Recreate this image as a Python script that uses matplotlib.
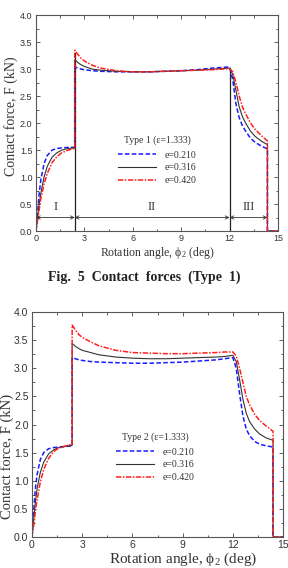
import matplotlib
matplotlib.use("Agg")
import matplotlib.pyplot as plt
from matplotlib.ticker import MultipleLocator

plt.rcParams["mathtext.fontset"] = "custom"
plt.rcParams["mathtext.rm"] = "Liberation Serif"
plt.rcParams["mathtext.it"] = "Liberation Serif:italic"

# ---------------- data ----------------
# Type 1
t1_x_I = [0, 0.1, 0.2, 0.3, 0.5, 0.7, 1.0, 1.3, 1.6, 2.0, 2.4]
t1_b_I = [0, 0.35, 0.7, 0.95, 1.25, 1.4, 1.5, 1.53, 1.54, 1.55, 1.55]
t1_k_I = [0, 0.25, 0.5, 0.7, 1.0, 1.2, 1.37, 1.45, 1.5, 1.53, 1.54]
t1_r_I = [0, 0.2, 0.4, 0.6, 0.87, 1.07, 1.27, 1.38, 1.45, 1.5, 1.53]

t1_x_II = [2.4, 2.6, 2.8, 3.0, 3.5, 4, 5, 6, 7, 8, 9, 10, 11, 11.5, 12]
t1_b_II = [3.04, 3.02, 3.0, 2.99, 2.97, 2.96, 2.95, 2.95, 2.95, 2.96, 2.97, 2.99, 3.02, 3.03, 3.04]
t1_k_II = [3.18, 3.12, 3.08, 3.05, 3.0, 2.98, 2.96, 2.95, 2.95, 2.96, 2.97, 2.98, 3.0, 3.01, 3.02]
t1_r_II = [3.35, 3.27, 3.2, 3.15, 3.07, 3.02, 2.97, 2.95, 2.95, 2.96, 2.97, 2.98, 2.99, 3.0, 3.01]

t1_x_III = [12, 12.2, 12.4, 12.6, 12.8, 13, 13.3, 13.6, 14.0, 14.35, 14.35, 15]
t1_b_III = [3.04, 2.8, 2.35, 2.1, 1.95, 1.85, 1.72, 1.64, 1.57, 1.52, 0, 0]
t1_k_III = [3.02, 2.9, 2.6, 2.3, 2.12, 2.0, 1.85, 1.75, 1.66, 1.6, 0, 0]
t1_r_III = [3.01, 2.95, 2.75, 2.5, 2.3, 2.17, 2.0, 1.88, 1.76, 1.67, 0, 0]

# Type 2
t2_x_I = [0, 0.1, 0.2, 0.3, 0.5, 0.7, 1.0, 1.3, 1.6, 2.0, 2.4]
t2_b_I = [0, 0.45, 0.85, 1.1, 1.38, 1.5, 1.57, 1.59, 1.6, 1.61, 1.62]
t2_k_I = [0, 0.3, 0.6, 0.85, 1.15, 1.33, 1.48, 1.55, 1.59, 1.61, 1.63]
t2_r_I = [0, 0.2, 0.45, 0.65, 0.98, 1.2, 1.4, 1.52, 1.58, 1.62, 1.65]

t2_x_II = [2.4, 2.6, 2.8, 3.0, 3.5, 4, 5, 6, 7, 8, 9, 10, 11, 11.5, 12]
t2_b_II = [3.19, 3.17, 3.15, 3.14, 3.12, 3.11, 3.1, 3.09, 3.09, 3.1, 3.11, 3.13, 3.15, 3.17, 3.19]
t2_k_II = [3.44, 3.39, 3.35, 3.32, 3.28, 3.24, 3.2, 3.18, 3.17, 3.17, 3.18, 3.19, 3.2, 3.21, 3.23]
t2_r_II = [3.77, 3.68, 3.6, 3.55, 3.47, 3.40, 3.32, 3.28, 3.27, 3.26, 3.26, 3.27, 3.28, 3.29, 3.29]

t2_x_III = [12, 12.2, 12.4, 12.6, 12.8, 13, 13.3, 13.6, 14.0, 14.4, 14.4, 15]
t2_b_III = [3.19, 3.0, 2.55, 2.15, 1.92, 1.8, 1.7, 1.65, 1.62, 1.6, 0, 0]
t2_k_III = [3.23, 3.12, 2.8, 2.45, 2.2, 2.05, 1.92, 1.83, 1.76, 1.72, 0, 0]
t2_r_III = [3.29, 3.22, 3.0, 2.75, 2.5, 2.35, 2.18, 2.07, 1.97, 1.88, 0, 0]

labels = ["e=0.210", "e=0.316", "e=0.420"]
region_labels = ["I", "II", "III"]
region_bounds = [0, 2.4, 12, 14.35]
xticks = [0, 3, 6, 9, 12, 15]
yticks = [0.0, 0.5, 1.0, 1.5, 2.0, 2.5, 3.0, 3.5, 4.0]

serif = ["Liberation Serif", "DejaVu Serif"]
sans = ["Liberation Sans", "DejaVu Sans"]
XLABEL = "Rotation angle, \u03d5$_2$ (deg)"
YLABEL = "Contact force, F (kN)"

styles = [
    dict(color="#1a1aff", ls=(0, (3, 1.5)), lw=1.1),
    dict(color="#333333", ls="-", lw=0.8),
    dict(color="#ff2020", ls=(0, (3.5, 1, 1, 1)), lw=1.1),
]

fig = plt.figure(figsize=(2.88, 5.68), dpi=100)


def style_axes(ax, tick_fs, xl_fs, yl_fs, ylpad):
    ax.set_xlim(0, 15)
    ax.set_ylim(0, 4)
    ax.set_xticks(xticks)
    ax.set_yticks(yticks)
    ax.set_yticklabels([f"{v:.1f}" for v in yticks])
    ax.xaxis.set_minor_locator(MultipleLocator(1.5))
    ax.yaxis.set_minor_locator(MultipleLocator(0.25))
    ax.tick_params(which="both", direction="in", top=True, right=True,
                   labelsize=tick_fs, color="#444444", labelcolor="#333333",
                   width=0.6, pad=2.5)
    ax.tick_params(which="major", length=3)
    ax.tick_params(which="minor", length=1.8)
    for lab in ax.get_xticklabels() + ax.get_yticklabels():
        lab.set_family(sans)
    for s in ax.spines.values():
        s.set_color("#555555")
        s.set_linewidth(0.8)
    ax.set_xlabel(XLABEL, family=serif, fontsize=xl_fs, color="#333333",
                  labelpad=1)
    ax.set_ylabel(YLABEL, family=serif, fontsize=yl_fs, color="#333333",
                  labelpad=ylpad)


def draw(ax, xs, series):
    handles = []
    for (yI, yII, yIII), st, lab in zip(series, styles, labels):
        x = xs[0] + xs[1] + xs[2]
        y = yI + yII + yIII
        h, = ax.plot(x, y, label=lab, **st)
        handles.append(h)
    return handles


def make_legend(ax, handles, title, anchor):
    leg = ax.legend(handles=handles, loc="upper center", bbox_to_anchor=anchor,
                    frameon=False, title=title,
                    prop=dict(family=serif, size=7), handlelength=3.9,
                    handletextpad=0.9, labelspacing=0.38, borderpad=0.1)
    leg.get_title().set_family(serif)
    leg.get_title().set_fontsize(7)
    leg.get_title().set_color("#333333")
    leg._legend_box.sep = 4
    for t in leg.get_texts():
        t.set_color("#333333")
    return leg


# ---------------- Type 1 ----------------
ax1 = fig.add_axes([0.125, 0.5933, 0.840, 0.380])
style_axes(ax1, 6.5, 8.5, 10, 1.5)
ax1.yaxis.set_label_coords(-0.075, 0.53)
ax1.plot([2.4, 2.4], [0, 3.3], color="#222222", lw=0.9)
ax1.plot([12, 12], [0, 3.02], color="#222222", lw=0.9)
h1 = draw(ax1, [t1_x_I, t1_x_II, t1_x_III],
          [(t1_b_I, t1_b_II, t1_b_III), (t1_k_I, t1_k_II, t1_k_III),
           (t1_r_I, t1_r_II, t1_r_III)])
for i in range(3):
    a, b = region_bounds[i], region_bounds[i + 1]
    ax1.annotate("", xy=(a, 0.25), xytext=(b, 0.25),
                 arrowprops=dict(arrowstyle="<->", lw=0.6, color="#333333",
                                 shrinkA=0, shrinkB=0, mutation_scale=6))
    ax1.text((a + b) / 2, 0.44, region_labels[i], family=serif, fontsize=9,
             ha="center", va="center", color="#333333")
make_legend(ax1, h1, "Type 1 (\u03b5=1.333)", (0.5, 0.47))

fig.text(0.5, 0.512, "Fig.  5  Contact  forces  (Type  1)", family=serif,
         fontsize=10, ha="center", va="center", color="#222222",
         fontweight="bold")

# ---------------- Type 2 ----------------
ax2 = fig.add_axes([0.111, 0.0546, 0.872, 0.396])
style_axes(ax2, 7.5, 11, 10.5, 0)
ax2.xaxis.set_label_coords(0.60, -0.06)
ax2.yaxis.set_label_coords(-0.07, 0.36)
h2 = draw(ax2, [t2_x_I, t2_x_II, t2_x_III],
          [(t2_b_I, t2_b_II, t2_b_III), (t2_k_I, t2_k_II, t2_k_III),
           (t2_r_I, t2_r_II, t2_r_III)])
make_legend(ax2, h2, "Type 2 (\u03b5=1.333)", (0.49, 0.49))

fig.savefig("out.png", dpi=100)
